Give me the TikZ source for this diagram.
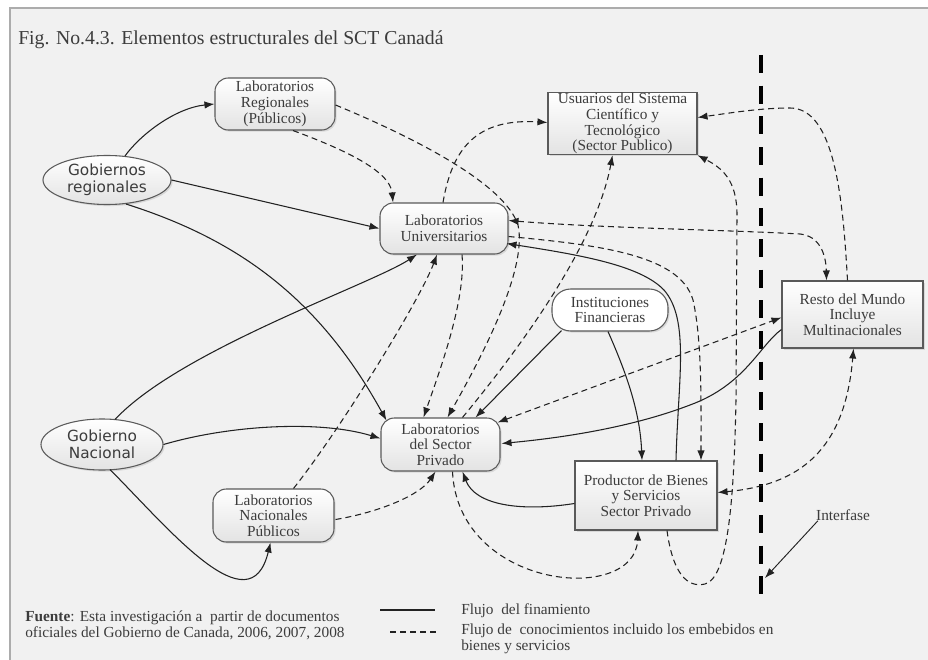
\documentclass[tikz,border=0pt]{standalone}
\usepackage{fontspec}
\setmainfont{Liberation Serif}
\newfontfamily\govfont{DejaVu Sans}
\usetikzlibrary{arrows.meta,calc,shadows,shapes.geometric}
\definecolor{ink}{HTML}{222222}
\definecolor{txt}{HTML}{3C3C3C}
\definecolor{paper}{HTML}{F1F1F1}
\definecolor{rim}{HTML}{5A5A5A}
\begin{document}
\begin{tikzpicture}[x=0.75pt,y=-0.75pt,
  font=\fontsize{11.5}{11.8}\selectfont,
  >={Latex[length=7.5pt,width=5.5pt]},
  box/.style={draw=rim, line width=0.8pt, text=txt, align=center, inner sep=1pt,
    top color=white, bottom color=gray!22,
    drop shadow={shadow xshift=1.2pt, shadow yshift=-1.2pt, opacity=0.22}},
  roundbox/.style={box, rounded corners=10pt},
  sharpbox/.style={box},
  govbox/.style={box, ellipse, inner sep=0pt, font=\govfont\fontsize{11.5}{12.75}\selectfont},
  plain/.style={text=txt, inner sep=0pt},
  fin/.style={->, draw=ink, line width=0.8pt},
  know/.style={->, draw=ink, line width=0.8pt, dash pattern=on 4.5pt off 3pt},
  knowboth/.style={know, <->},
  interface/.style={draw=black, line width=3.4pt, dash pattern=on 13.5pt off 9.5pt},
]
\useasboundingbox (0,0) rectangle (928,660);
% page frame
\fill[white] (0,0) rectangle (928,660);
\draw[draw=gray!65, line width=1.3pt, fill=paper] (10,8) rectangle (940,672);

% title
\node[plain, anchor=west, font=\fontsize{14.8}{16}\selectfont] (title) at (18,40)
  {Fig. No.4.3. Elementos estructurales del SCT Canadá};

% actors
\node[roundbox, minimum width=90pt, minimum height=39pt] (labreg) at (275,104)
  {Laboratorios\\Regionales\\(Públicos)};
\node[roundbox, minimum width=96pt, minimum height=38.25pt] (labuni) at (444,228.5)
  {Laboratorios\\Universitarios};
\node[roundbox, minimum width=89.25pt, minimum height=39.75pt] (labpriv) at (440.5,444.5)
  {Laboratorios\\del Sector\\Privado};
\node[roundbox, minimum width=90.75pt, minimum height=39.75pt] (labnac) at (273.5,515.5)
  {Laboratorios\\Nacionales\\Públicos};
\node[sharpbox, inner sep=0.5pt, minimum width=111.75pt, minimum height=45.75pt] (usu) at (622.5,123.5)
  {Usuarios del Sistema\\Científico y\\Tecnológico\\(Sector Publico)};
\node[roundbox, rounded corners=14pt, top color=white, bottom color=white,
  minimum width=87pt, minimum height=31.5pt] (inst) at (610,310)
  {Instituciones\\Financieras};
\node[sharpbox, minimum width=105.75pt, minimum height=50.25pt] (resto) at (852.5,314.5)
  {Resto del Mundo\\Incluye\\Multinacionales};
\node[sharpbox, minimum width=106.5pt, minimum height=51.75pt] (prod) at (646,495.5)
  {Productor de Bienes\\y Servicios\\Sector Privado};
\node[govbox, minimum width=96pt, minimum height=36.75pt] (grg) at (107,180)
  {Gobiernos\\regionales};
\node[govbox, minimum width=91.5pt, minimum height=38.25pt] (gnac) at (102,444.5)
  {Gobierno\\Nacional};

% interface line
\coordinate (itop) at (761,55);
\coordinate (ibot) at (761,595);
\draw[interface] (itop) -- (ibot);
\node[plain] (ilab) at (843,515) {Interfase};
\coordinate (ipt) at (765,578);
\draw[fin, line width=0.7pt] ($(ilab.south west)+(2,0)$) -- (ipt);

% financing flows
\draw[fin] ($(grg.north)+(18,1)$) .. controls (140,135) and (175,108) .. (labreg.west);
\draw[fin] (grg.east) -- (labuni.west);
\draw[fin] ($(grg.south)+(19,-1)$) .. controls (240,240) and (320,300) .. ($(labpriv.north west)+(6,3)$);
\draw[fin] ($(gnac.north)+(13,1)$) .. controls (180,350) and (370,285) .. ($(labuni.south)+(-27,0)$);
\draw[fin] (gnac.east) .. controls (230,425) and (320,420) .. ($(labpriv.west)+(0,-6)$);
\draw[fin] ($(gnac.south)+(8,-1)$) .. controls (170,530) and (250,628) .. ($(labnac.south)+(-3,0)$);
\draw[fin] ($(inst.south west)+(10,-1)$) -- ($(labpriv.north)+(35,0)$);
\draw[fin] ($(inst.south)+(-2,0)$) .. controls (625,370) and (640,410) .. ($(prod.north)+(-4,0)$);
\draw[fin] ($(prod.north)+(30,0)$) .. controls (678,380) and (690,320) .. (664,290)
  .. controls (640,265) and (580,255) .. ($(labuni.east)+(-2,15)$);
\draw[fin] ($(resto.west)+(0,15)$) .. controls (760,345) and (745,385) .. (690,405)
  .. controls (630,428) and (560,438) .. ($(labpriv.east)+(1,-1)$);
\draw[fin] ($(prod.west)+(0,8)$) .. controls (520,512) and (475,505) .. ($(labpriv.south)+(22,0)$);

% knowledge flows
\draw[know] ($(labreg.south)+(18,0)$) .. controls (340,148) and (390,170) .. ($(labuni.north)+(-51,0)$);
\draw[know] ($(labreg.east)+(0,1)$) .. controls (420,140) and (505,185) .. (518,225)
  .. controls (528,270) and (480,360) .. ($(labpriv.north)+(7,0)$);
\draw[know] ($(labuni.south)+(18,0)$) .. controls (466,300) and (440,370) .. ($(labpriv.north)+(-17,0)$);
\draw[know] ($(labnac.north)+(20,0)$) .. controls (340,430) and (420,300) .. ($(labuni.south)+(-7,0)$);
\draw[know] ($(labnac.east)+(1,4)$) .. controls (380,512) and (420,495) .. ($(labpriv.south)+(-5,0)$);
\draw[know] ($(labpriv.south)+(12,0)$) .. controls (458,590) and (635,605) .. ($(prod.south)+(-8,0)$);
\draw[know] ($(prod.south)+(21,0)$) .. controls (673,575) and (688,588) .. (705,584)
  .. controls (728,578) and (734,500) .. (736,400) -- (737,215)
  .. controls (737,180) and (722,168) .. (usu.south east);
\draw[know] ($(labuni.east)+(0,8)$) .. controls (600,245) and (680,255) .. (693,300)
  .. controls (702,340) and (701,400) .. ($(prod.north)+(55,0)$);
\draw[knowboth] ($(labuni.east)+(0,-8)$) .. controls (600,228) and (730,230) .. (800,234)
  .. controls (820,236) and (826,255) .. ($(resto.north)+(-26,0)$);
\draw[know] ($(resto.north)+(-5,0)$) .. controls (843,200) and (835,108) .. (790,108)
  .. controls (760,108) and (730,113) .. ($(usu.east)+(0,-6)$);
\draw[knowboth] ($(labpriv.north east)+(-3,5)$) -- ($(resto.west)+(0,3)$);
\draw[knowboth] ($(prod.east)+(0,-3)$) .. controls (800,485) and (845,450) .. ($(resto.south)+(1,0)$);
\draw[know] ($(labuni.north)+(-1,0)$) .. controls (452,150) and (475,118) .. ($(usu.west)+(0,-1)$);
\draw[know] ($(labpriv.north)+(22,0)$) .. controls (510,360) and (595,250) .. ($(usu.south)+(-10,0)$);

% source note
\node[plain, anchor=west, align=left, font=\fontsize{11.5}{12}\selectfont] (src) at (25,625)
  {\textbf{Fuente}: Esta investigación a\ \ partir de documentos\\oficiales del Gobierno de Canada, 2006, 2007, 2008};

% legend
\coordinate (lsa) at (380,610);
\coordinate (lsb) at (435,610);
\coordinate (lda) at (390,632);
\coordinate (ldb) at (440,632);
\draw[draw=ink, line width=0.8pt] (lsa) -- (lsb);
\draw[draw=ink, line width=0.8pt, dash pattern=on 4.5pt off 3pt] (lda) -- (ldb);
\node[plain, anchor=west] (lfin) at (461,611) {Flujo\ \ del finamiento};
\node[plain, anchor=north west, align=left, font=\fontsize{11.5}{12}\selectfont] (lknow) at (461,624)
  {Flujo de\ \ conocimientos incluido los embebidos en\\bienes y servicios};
\end{tikzpicture}
\end{document}
